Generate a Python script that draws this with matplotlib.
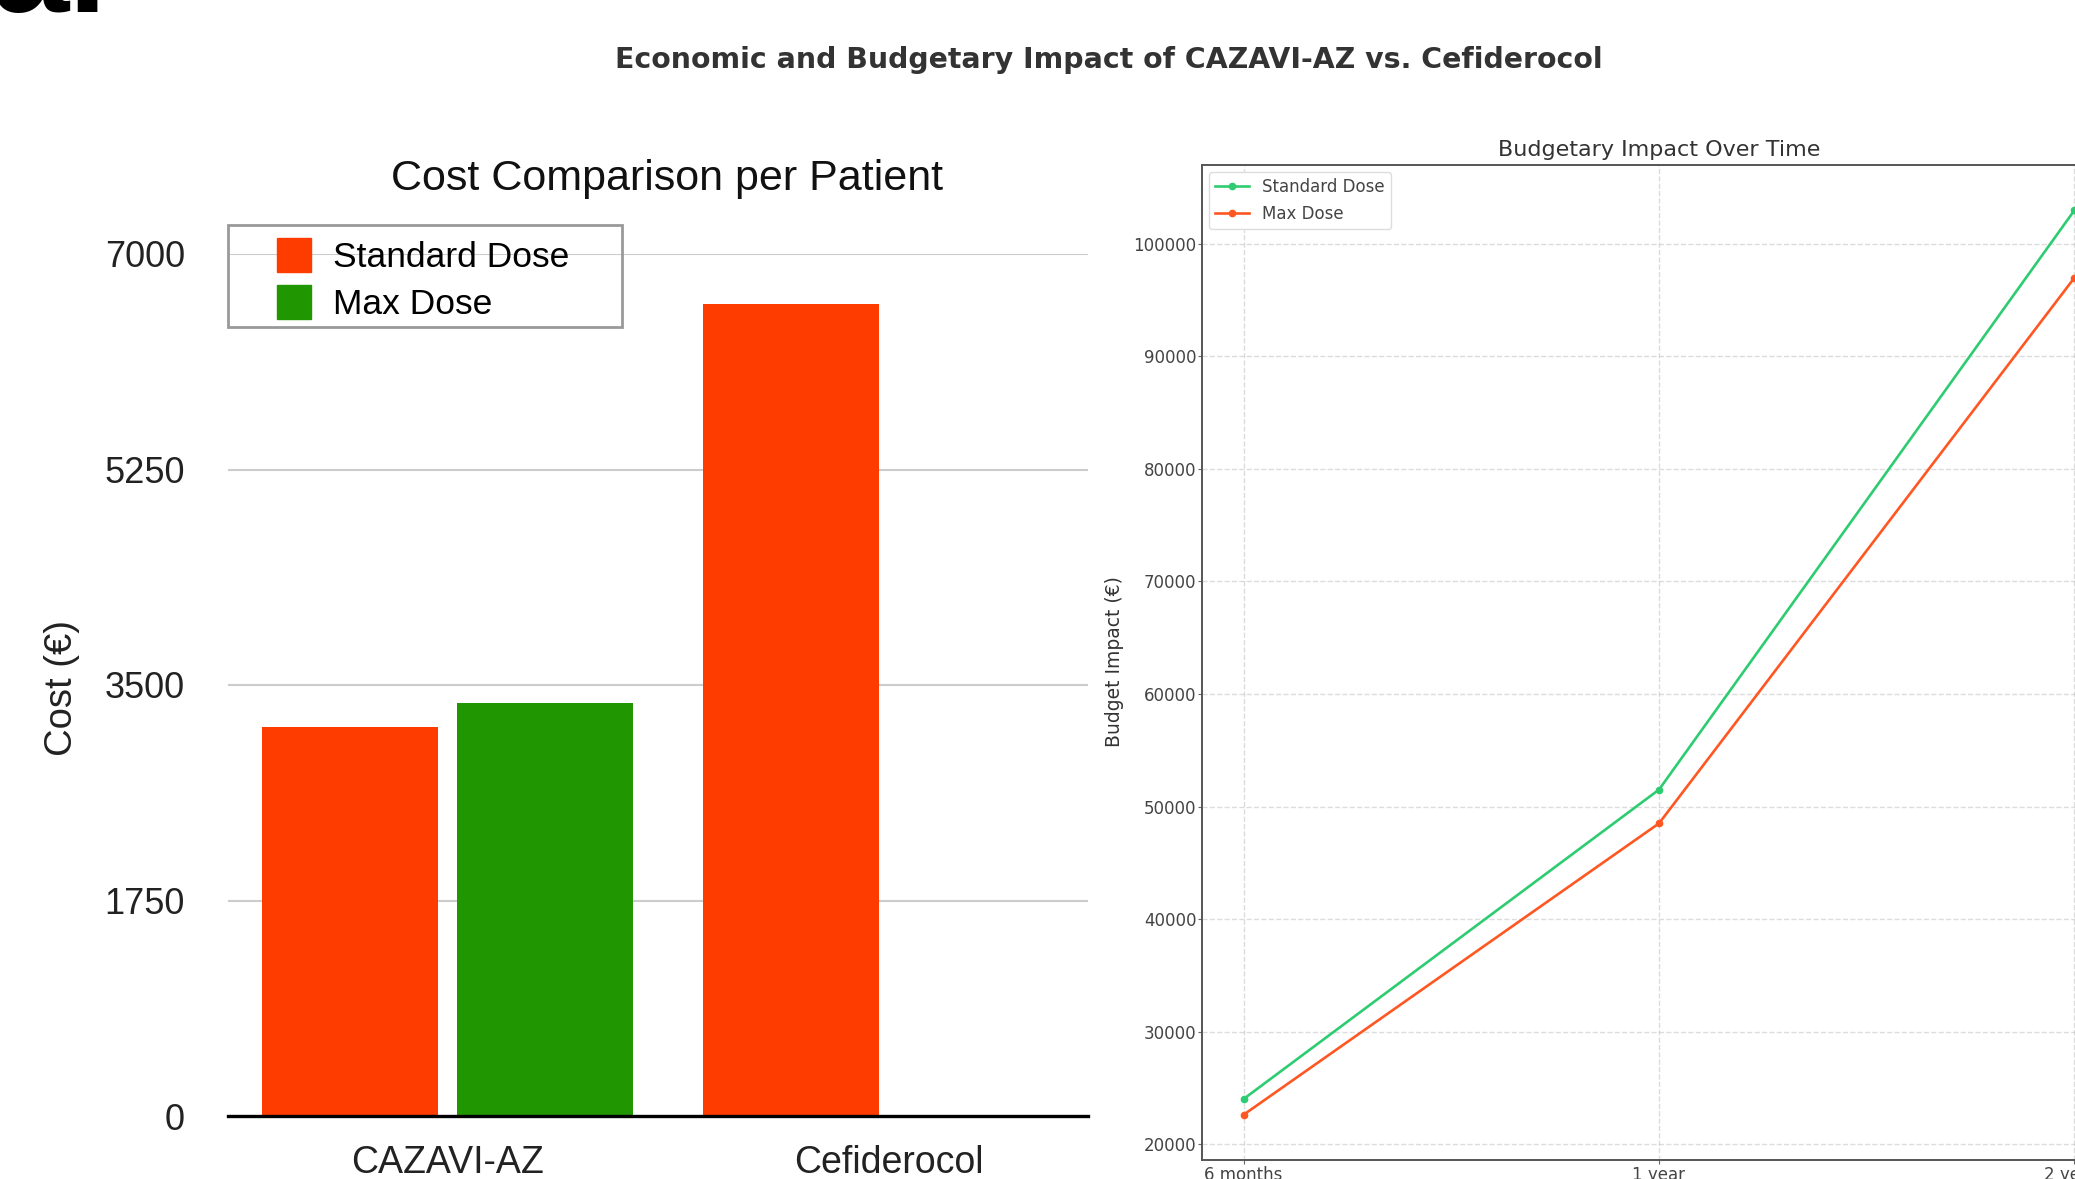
import numpy as np
import matplotlib
matplotlib.use("Agg")
import matplotlib.pyplot as plt
import matplotlib.patches as mpatches
from matplotlib.legend_handler import HandlerPatch

# ---- data ----
drugs = ["CAZAVI-AZ", "Cefiderocol"]
cost_standard = [3160, 6590]
cost_max = [3350, np.nan]
cost_ticks = [0, 1750, 3500, 5250, 7000]

periods = ["6 months", "1 year", "2 years"]
budget_standard = [24000, 51500, 103000]
budget_max = [22600, 48500, 97000]
budget_ticks = [20000, 30000, 40000, 50000, 60000, 70000, 80000, 90000, 100000]

W, H = 2075, 1179
fig = plt.figure(figsize=(W / 100, H / 100), dpi=100)

def fx(px):
    return px / W

def fy(py):
    return 1 - py / H

ARIAL = ["Liberation Sans", "DejaVu Sans"]
RED = "#ff3c00"
GREEN = "#209600"

# ---------------- left: Cost comparison ----------------
axL = fig.add_axes([fx(228), fy(1116), fx(1088 - 228), (1116 - 254) / H])
x = np.arange(len(drugs))
off, bw = 0.2208, 0.3986
axL.bar(x - off, cost_standard, bw, color=RED, label="Standard Dose", zorder=2)
axL.bar(x + off, cost_max, bw, color=GREEN, label="Max Dose", zorder=2)
axL.set_xlim(-0.497, 1.451)
axL.set_ylim(0, 7000)
axL.set_yticks(cost_ticks)
axL.set_yticklabels([str(t) for t in cost_ticks], fontsize=26, family=ARIAL, color="#222222")
axL.set_xticks(x)
axL.set_xticklabels(drugs, fontsize=27, family=ARIAL, color="#222222")
axL.tick_params(axis="y", length=0, pad=31)
axL.tick_params(axis="x", length=0, pad=21)
axL.grid(axis="y", color="#cccccc", lw=1.5, zorder=0)
axL.set_axisbelow(True)
for s in ["top", "right", "left"]:
    axL.spines[s].set_visible(False)
axL.spines["bottom"].set_color("black")
axL.spines["bottom"].set_linewidth(2.4)
axL.spines["bottom"].set_zorder(3)

fig.text(fx(667), fy(179), "Cost Comparison per Patient", fontsize=31,
         family=ARIAL, color="#111111", ha="center", va="center")
fig.text(fx(62), fy(688), "Cost (€)", fontsize=27.5, family=ARIAL, color="#222222",
         rotation=90, ha="center", va="center")


def square_patch(legend, orig_handle, xdescent, ydescent, width, height, fontsize):
    sw = 24.5
    sh = height
    return mpatches.Rectangle((width - sw - xdescent, -ydescent), sw, sh)


handles = [mpatches.Patch(color=RED, label="Standard Dose"),
           mpatches.Patch(color=GREEN, label="Max Dose")]
legL = fig.legend(handles=handles, loc="upper left", bbox_to_anchor=(fx(228), fy(229)),
                  borderaxespad=0, prop={"family": ARIAL, "size": 25.5},
                  handlelength=2.1, handleheight=1.1, handletextpad=0.62,
                  labelspacing=0.32, borderpad=0.25, frameon=False,
                  handler_map={mpatches.Patch: HandlerPatch(patch_func=square_patch)})
# legend frame (wider than its contents, as in the reference)
fig.patches.append(mpatches.Rectangle((fx(228), fy(327)), fx(622 - 228), (327 - 225) / H,
                                      transform=fig.transFigure, fill=False,
                                      edgecolor="#999999", linewidth=2.0, zorder=5))

# ---------------- right: Budgetary impact ----------------
GREEN2 = "#2ecc71"
ORANGE2 = "#ff5722"
axR = fig.add_axes([fx(1202), fy(1160), fx(2116 - 1202), (1160 - 165) / H])
xp = np.arange(len(periods))
axR.plot(xp, budget_standard, color=GREEN2, marker="o", ms=4.5, lw=1.9, label="Standard Dose")
axR.plot(xp, budget_max, color=ORANGE2, marker="o", ms=4.5, lw=1.9, label="Max Dose")
axR.set_xticks(xp)
axR.set_xticklabels(periods)
axR.set_yticks(budget_ticks)
axR.tick_params(labelsize=12, labelcolor="#444444", color="#666666", length=3, pad=1)
axR.grid(True, linestyle="--", color="#bbbbbb", alpha=0.5, lw=1)
for s in axR.spines.values():
    s.set_color("#555555")
    s.set_linewidth(1.4)
legR = axR.legend(loc="upper left", fontsize=12, framealpha=1, borderaxespad=0.4)
legR.get_frame().set_edgecolor("#dddddd")
for t in legR.get_texts():
    t.set_color("#444444")

fig.text(fx(1659), fy(150), "Budgetary Impact Over Time", fontsize=16, color="#333333",
         ha="center", va="center")
fig.text(fx(1115), fy(662), "Budget Impact (€)", fontsize=13.5, color="#333333",
         rotation=90, ha="center", va="center")
fig.text(fx(1109), fy(60), "Economic and Budgetary Impact of CAZAVI-AZ vs. Cefiderocol",
         fontsize=20.4, fontweight="bold", color="#333333", ha="center", va="center")

# cropped panel letter at the very top-left
fig.text(-0.004, fy(12), "a.", fontsize=100, fontweight="bold", family=ARIAL,
         color="black", ha="left", va="baseline")

fig.savefig("out.png", dpi=100)
